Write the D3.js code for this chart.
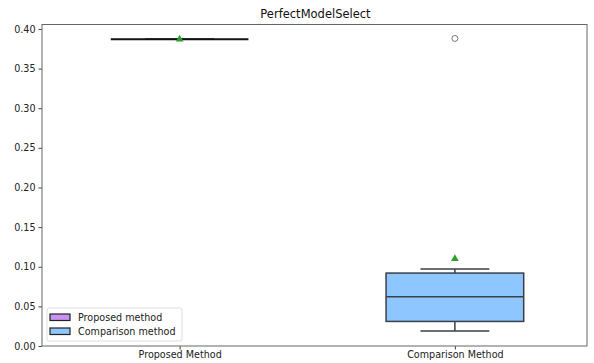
<!DOCTYPE html>
<html>
<head>
<meta charset="utf-8">
<script src="https://cdn.jsdelivr.net/npm/d3@7"></script>
<style>
  html, body { margin: 0; padding: 0; background: #fff; }
  svg { display: block; font-family: "DejaVu Sans", sans-serif; }
</style>
</head>
<body>
<svg id="chart" width="594" height="363"></svg>
<script>
// Box statistics per method
const categories   = ["Proposed Method", "Comparison Method"];
const positions    = [1, 2];
const whiskerLow   = [0.387, 0.019];
const q1           = [0.387, 0.031];
const medians      = [0.387, 0.062];
const q3           = [0.387, 0.092];
const whiskerHigh  = [0.387, 0.097];
const means        = [0.387, 0.110];
const outliers     = [[], [0.388]];
const boxColors    = ["#c993f2", "#8ec6ff"];
const legendLabels = ["Proposed method", "Comparison method"];
const yTicks       = [0.00, 0.05, 0.10, 0.15, 0.20, 0.25, 0.30, 0.35, 0.40];

const svg = d3.select("#chart");
const plot = { left: 42, right: 587, top: 24.5, bottom: 346 };
const fontFamily = "'DejaVu Sans', sans-serif";

const x = d3.scaleLinear().domain([0.5, 2.48]).range([plot.left, plot.right]);
const y = d3.scaleLinear().domain([0, 0.4056]).range([plot.bottom, plot.top]);

const boxW = x(1.25) - x(1);   // half width of the box
const capW = boxW / 2;         // half width of whisker caps

// Axes
const yAxis = d3.axisLeft(y).tickValues(yTicks).tickFormat(d3.format(".2f")).tickSize(3.5).tickPadding(3);
const xAxis = d3.axisBottom(x).tickValues(positions).tickFormat((d, i) => categories[i]).tickSize(3.5).tickPadding(2);

const gy = svg.append("g").attr("transform", `translate(${plot.left},0)`).call(yAxis);
const gx = svg.append("g").attr("transform", `translate(0,${plot.bottom})`).call(xAxis);
[gx, gy].forEach(g => {
  g.attr("font-family", fontFamily).attr("font-size", 9.6);
  g.select(".domain").remove();
  g.selectAll(".tick line").attr("stroke", "#444");
  g.selectAll(".tick text").attr("fill", "#222");
});

// Boxes
const data = categories.map((c, i) => ({
  pos: positions[i], lo: whiskerLow[i], q1: q1[i], med: medians[i], q3: q3[i],
  hi: whiskerHigh[i], mean: means[i], out: outliers[i], color: boxColors[i]
}));

const g = svg.append("g");
data.forEach(d => {
  const cx = x(d.pos);
  const stroke = "#3a3f47";
  // whiskers
  g.append("line").attr("x1", cx).attr("x2", cx).attr("y1", y(d.lo)).attr("y2", y(d.q1))
    .attr("stroke", stroke).attr("stroke-width", 1.5);
  g.append("line").attr("x1", cx).attr("x2", cx).attr("y1", y(d.q3)).attr("y2", y(d.hi))
    .attr("stroke", stroke).attr("stroke-width", 1.5);
  g.append("line").attr("x1", cx - capW).attr("x2", cx + capW).attr("y1", y(d.lo)).attr("y2", y(d.lo))
    .attr("stroke", stroke).attr("stroke-width", 1.5);
  g.append("line").attr("x1", cx - capW).attr("x2", cx + capW).attr("y1", y(d.hi)).attr("y2", y(d.hi))
    .attr("stroke", stroke).attr("stroke-width", 1.5);
  // box
  g.append("rect").attr("x", cx - boxW).attr("width", 2 * boxW)
    .attr("y", y(d.q3)).attr("height", Math.max(0, y(d.q1) - y(d.q3)))
    .attr("fill", d.color).attr("stroke", stroke).attr("stroke-width", 1.5);
  // median
  const degenerate = d.q3 === d.q1;
  g.append("line").attr("x1", cx - boxW).attr("x2", cx + boxW).attr("y1", y(d.med)).attr("y2", y(d.med))
    .attr("stroke", degenerate ? "#111" : stroke).attr("stroke-width", degenerate ? 2.2 : 1.5);
  // outliers
  d.out.forEach(v => {
    g.append("circle").attr("cx", cx).attr("cy", y(v)).attr("r", 3)
      .attr("fill", "none").attr("stroke", "#777").attr("stroke-width", 1);
  });
  // mean marker
  g.append("path").attr("d", d3.symbol(d3.symbolTriangle, 26)())
    .attr("transform", `translate(${cx},${y(d.mean)})`).attr("fill", "#2ca02c");
});

// Frame
svg.append("rect").attr("x", plot.left).attr("y", plot.top)
  .attr("width", plot.right - plot.left).attr("height", plot.bottom - plot.top)
  .attr("fill", "none").attr("stroke", "#666").attr("stroke-width", 1);

// Title
svg.append("text").attr("x", (plot.left + plot.right) / 2 + 1).attr("y", 18)
  .attr("text-anchor", "middle").attr("font-family", fontFamily).attr("font-size", 11.5).attr("fill", "#111")
  .text("PerfectModelSelect");

// Legend
const lg = svg.append("g").attr("transform", "translate(47,308)");
lg.append("rect").attr("width", 135).attr("height", 33).attr("rx", 2)
  .attr("fill", "#fff").attr("fill-opacity", 0.8).attr("stroke", "#ddd");
legendLabels.forEach((t, i) => {
  const row = lg.append("g").attr("transform", `translate(3,${6 + i * 14})`);
  row.append("rect").attr("width", 20).attr("height", 6.5)
    .attr("fill", boxColors[i]).attr("stroke", "#222").attr("stroke-width", 1.2);
  row.append("text").attr("x", 28).attr("y", 3.5).attr("dy", "0.35em")
    .attr("font-family", fontFamily).attr("font-size", 9.6).attr("fill", "#222").text(t);
});
</script>
</body>
</html>
